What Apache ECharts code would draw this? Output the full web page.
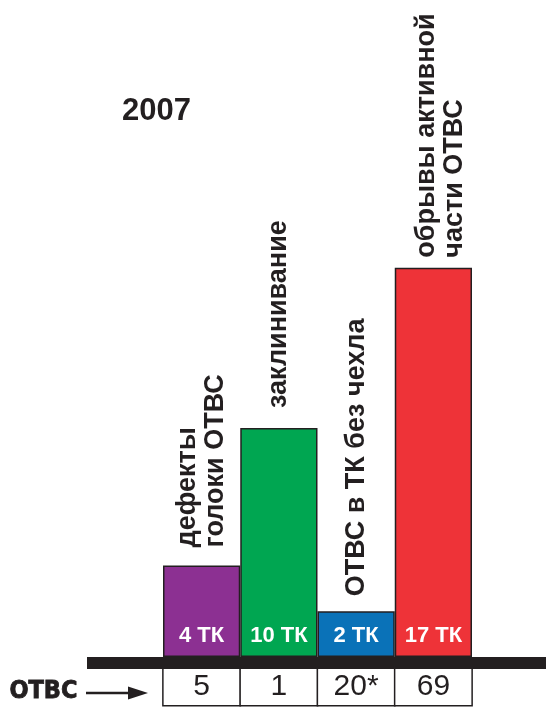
<!DOCTYPE html>
<html>
<head>
<meta charset="utf-8">
<script src="https://cdn.jsdelivr.net/npm/echarts@6/dist/echarts.min.js"></script>
<style>
  html, body { margin: 0; padding: 0; background: #ffffff; }
  #chart { width: 546px; height: 707px; }
</style>
</head>
<body>
<div id="chart"></div>
<script>
// Failure causes of fuel assemblies (ОТВС), 2007
const yearLabel = '2007';
const causes = [
  'дефекты\nголоки ОТВС',
  'заклинивание',
  'ОТВС в ТК без чехла',
  'обрывы активной\nчасти ОТВС'
];
// number of channels (ТК) per cause
const channelCounts = [4, 10, 2, 17];
// number of assemblies per cause, as printed in the table row
const assemblyCounts = ['5', '1', '20*', '69'];
const rowTitle = 'ОТВС';

const barColors = ['#8c3092', '#00a651', '#0a72b8', '#ee3338'];
const causeLabelGaps = [18, 20, 15, 10];
const causeLabelShift = [0, 0, 0, 7];

const ink = '#231f20';
const textFont = "'Liberation Sans', Arial, sans-serif";
const narrowFont = "'Liberation Sans Narrow', 'DejaVu Sans Condensed', sans-serif";

const chart = echarts.init(document.getElementById('chart'), null, { renderer: 'canvas' });

chart.setOption({
  animation: false,
  backgroundColor: '#ffffff',
  title: {
    text: yearLabel,
    left: 122,
    top: 96,
    padding: 0,
    textStyle: { fontFamily: textFont, fontSize: 31, fontWeight: 'bold', color: ink }
  },
  grid: [
    { left: 163, right: 74, top: 199, bottom: 50, containLabel: false },
    // thick base rule under the bars, spanning to the right edge
    { left: 87, right: 0, top: 199, bottom: 44, containLabel: false }
  ],
  xAxis: [
    {
      type: 'category',
      gridIndex: 0,
      data: causes,
      axisLine: { show: false },
      axisTick: { show: false },
      axisLabel: {
        interval: 0,
        margin: 12,
        formatter: (value, index) => '{cell|' + assemblyCounts[index] + '}',
        rich: {
          cell: {
            width: 76,
            height: 36,
            align: 'center',
            verticalAlign: 'middle',
            fontFamily: textFont,
            fontSize: 30,
            color: ink,
            backgroundColor: '#ffffff',
            borderColor: ink,
            borderWidth: 1.5
          }
        }
      }
    },
    {
      type: 'value',
      gridIndex: 1,
      min: 0,
      max: 1,
      axisLine: { show: true, lineStyle: { color: ink, width: 12, cap: 'butt' } },
      axisTick: { show: false },
      axisLabel: { show: false },
      splitLine: { show: false },
      z: 10
    }
  ],
  yAxis: [
    { type: 'value', gridIndex: 0, min: 0, max: 20, show: false },
    { type: 'value', gridIndex: 1, min: 0, max: 1, show: false }
  ],
  series: [
    {
      type: 'bar',
      xAxisIndex: 0,
      yAxisIndex: 0,
      barCategoryGap: 0,
      barGap: '-100%',
      data: channelCounts.map((v, i) => ({
        value: v,
        itemStyle: { color: barColors[i] }
      })),
      itemStyle: { borderColor: ink, borderWidth: 1.5 },
      label: {
        show: true,
        position: 'insideBottom',
        distance: 10,
        formatter: (p) => p.value + ' ТК',
        fontFamily: textFont,
        fontSize: 22,
        fontWeight: 'bold',
        color: '#ffffff'
      }
    },
    {
      type: 'bar',
      xAxisIndex: 0,
      yAxisIndex: 0,
      barCategoryGap: 0,
      barGap: '-100%',
      silent: true,
      data: channelCounts.map((v, i) => ({
        value: v,
        label: { distance: causeLabelGaps[i], offset: [0, causeLabelShift[i]] }
      })),
      itemStyle: { color: 'rgba(0,0,0,0)', borderWidth: 0 },
      label: {
        show: true,
        position: 'top',
        rotate: 90,
        align: 'left',
        verticalAlign: 'middle',
        formatter: (p) => causes[p.dataIndex],
        fontFamily: textFont,
        fontSize: 27,
        lineHeight: 28,
        fontWeight: 'bold',
        color: ink
      }
    }
  ],
  graphic: [
    {
      type: 'text',
      left: 9,
      top: 679,
      style: {
        text: rowTitle,
        fontFamily: narrowFont,
        fontSize: 25,
        fontWeight: 'bold',
        fill: ink,
        stroke: ink,
        lineWidth: 0.8
      }
    },
    {
      type: 'line',
      shape: { x1: 86, y1: 693, x2: 134, y2: 693 },
      style: { stroke: ink, lineWidth: 2.5 }
    },
    {
      type: 'polygon',
      shape: { points: [[128, 686.5], [148, 693], [128, 699.5]] },
      style: { fill: ink }
    }
  ]
});
</script>
</body>
</html>
